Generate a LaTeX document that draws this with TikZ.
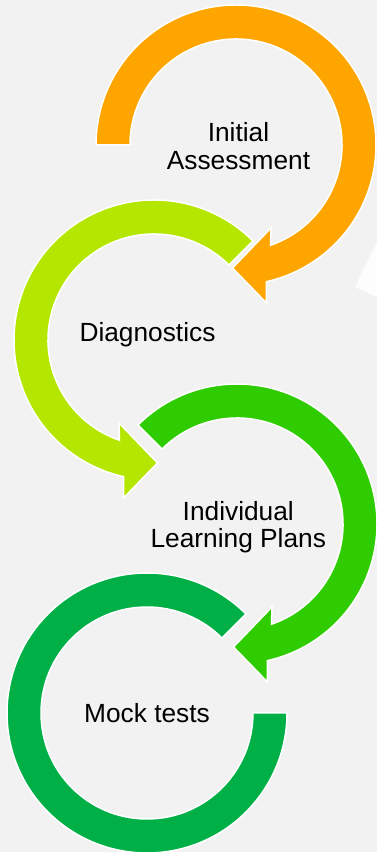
\documentclass[tikz,border=0pt]{standalone}
\usepackage{fontspec}
\setmainfont{Liberation Sans}
\definecolor{bgc}{HTML}{F2F2F2}
\definecolor{orangeC}{HTML}{FFA500}
\definecolor{limeC}{HTML}{B4E600}
\definecolor{greenC}{HTML}{2ECC00}
\definecolor{dgreenC}{HTML}{00B046}
\tikzset{
  ring/.style={draw=white, line width=1.5pt, line join=miter},
  lbl/.style={inner sep=0pt, align=center, text=black, font=\fontsize{26.3}{27.3}\selectfont},
}
\begin{document}
\begin{tikzpicture}[x=1pt,y=1pt]
\useasboundingbox (0,0) rectangle (377,852);
\fill[bgc] (0,0) rectangle (377,852);
% faint white shape at right
\fill[white!85!bgc] (355,565) -- (377,554.7) -- (377,610.3) -- cycle;
% dark green ring (Mock tests)
\begin{scope}[shift={(147,139)}]
\filldraw[ring, fill=dgreenC] (45:140) arc[start angle=45,end angle=360,radius=140pt]
  -- (0:106) arc[start angle=360,end angle=45,radius=106pt] -- cycle;
\end{scope}
% green arrow (Individual Learning Plans)
\begin{scope}[shift={(237,328)}]
\filldraw[ring, fill=greenC] (135:140) arc[start angle=135,end angle=-77.5,radius=140pt]
  -- (30.5,-158) -- (-3.5,-123) -- (35,-83) -- (-71:106)
  arc[start angle=-71,end angle=135,radius=106pt] -- cycle;
\end{scope}
% lime arrow (Diagnostics)
\begin{scope}[shift={(154,512)}]
\filldraw[ring, fill=limeC] (45:140) arc[start angle=45,end angle=257.5,radius=140pt]
  -- (-30.5,-158) -- (3.5,-123) -- (-35,-83) -- (251:106)
  arc[start angle=251,end angle=45,radius=106pt] -- cycle;
\end{scope}
% orange arrow (Initial Assessment)
\begin{scope}[shift={(236,707)}]
\filldraw[ring, fill=orangeC] (180:140) arc[start angle=180,end angle=-77.5,radius=140pt]
  -- (30.5,-158) -- (-3.5,-123) -- (35,-83) -- (-71:106)
  arc[start angle=-71,end angle=180,radius=106pt] -- cycle;
\end{scope}
% labels
\node[lbl] (initial) at (238.5,705.8) {Initial\\Assessment};
\node[lbl, anchor=base] (diag) at (147.5,510.3) {Diagnostics};
\node[lbl] (ilp) at (238.3,325) {Individual\\Learning Plans};
\node[lbl, anchor=base] (mock) at (147,129.3) {Mock tests};
\end{tikzpicture}
\end{document}
